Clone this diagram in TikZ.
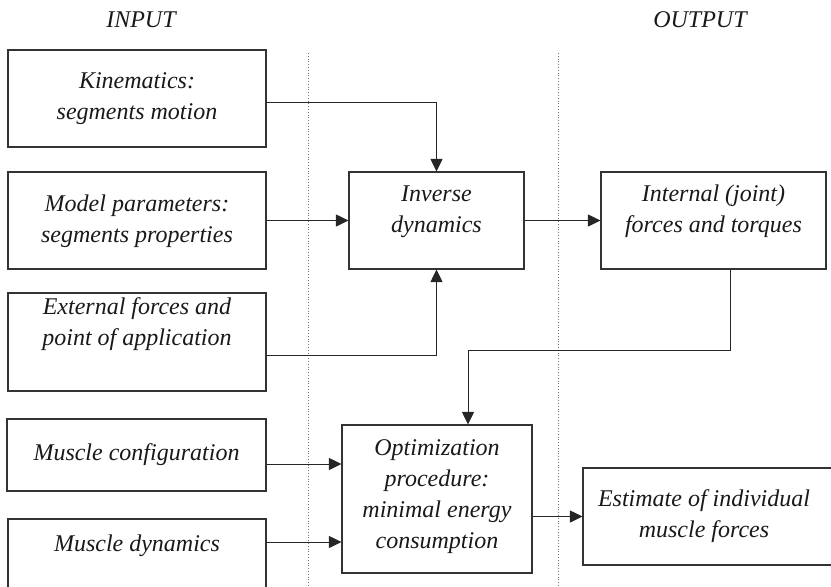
\documentclass[tikz,border=0pt]{standalone}
\usepackage{fontspec}
\setmainfont{Liberation Serif}
\usepackage{tikz}
\usetikzlibrary{calc,arrows.meta}

\begin{document}
\begin{tikzpicture}[x=1pt, y=-1pt,
        box/.style={draw=black!80, line width=1.1pt, inner sep=0pt},
        txt/.style={font=\fontsize{24}{31}\selectfont\itshape, align=center, text=black!90},
        arr/.style={draw=black!85, line width=1pt, -{Triangle[length=12.5pt,width=12pt]}},
        divider/.style={draw=black!55, dotted, line width=0.8pt}]
        \clip (0,0) rectangle (831,587);

        % headings and dividers
        \node[txt] (input) at (141,20) {INPUT};
        \node[txt] (output) at (700,20) {OUTPUT};
        \coordinate (d1) at (308,53);
        \coordinate (d2) at (558,53);
        \draw[divider] (d1) -- (d1 |- 0,587);
        \draw[divider] (d2) -- (d2 |- 0,587);

        % input boxes
        \node[box, minimum width=258pt, minimum height=97pt] (kin) at (137,98.5) {};
        \node[txt] (kin text) at (kin) {Kinematics:\\segments motion};
        \node[box, minimum width=258pt, minimum height=97pt] (model) at (137,220.5) {};
        \node[txt] (model text) at ([yshift=-1pt]model.center) {Model parameters:\\segments properties};
        \node[box, minimum width=258pt, minimum height=98pt] (ext) at (137,342) {};
        \node[txt] (ext text) at ([yshift=18pt]ext.center) {External forces and\\point of application};
        \node[box, minimum width=259pt, minimum height=72pt] (mconf) at (136.5,455) {};
        \node[txt] (mconf text) at (mconf) {Muscle configuration};
        \node[box, minimum width=258pt, minimum height=76pt] (mdyn) at (137,557) {};
        \node[txt] (mdyn text) at ([yshift=11pt]mdyn.center) {Muscle dynamics};

        % processing and output boxes
        \node[box, minimum width=175pt, minimum height=97pt] (inv) at (436.5,220.5) {};
        \node[txt] (inv text) at ([yshift=9pt]inv.center) {Inverse\\dynamics};
        \node[box, minimum width=225pt, minimum height=97pt] (int) at (713.5,220.5) {};
        \node[txt] (int text) at ([yshift=9pt]int.center) {Internal (joint)\\forces and torques};
        \node[box, minimum width=190pt, minimum height=148pt] (opt) at (437,499) {};
        \node[txt] (opt text) at ([yshift=2pt]opt.center) {Optimization\\procedure:\\minimal energy\\consumption};
        \node[box, minimum width=250pt, minimum height=97pt] (est) at (708,516.5) {};
        \node[txt] (est text) at ([xshift=-4pt]est.center) {Estimate of individual\\muscle forces};

        % connections
        \coordinate (turn) at (468,350);
        \draw[arr] ([yshift=-3.5pt]kin.east) -| (inv.north);
        \draw[arr] (model.east) -- (inv.west);
        \draw[arr] ([yshift=-13pt]ext.east) -| (inv.south);
        \draw[arr] (inv.east) -- (int.west);
        \draw[arr] ([xshift=16.5pt]int.south) |- (turn) -- (turn |- opt.north);
        \draw[arr] ([yshift=-9pt]mconf.east) -- ([yshift=-9pt]mconf.east -| opt.west);
        \draw[arr] ([yshift=15pt]mdyn.east) -- ([yshift=15pt]mdyn.east -| opt.west);
        \draw[arr] (opt.east |- est.west) -- (est.west);
    \end{tikzpicture}
\end{document}
